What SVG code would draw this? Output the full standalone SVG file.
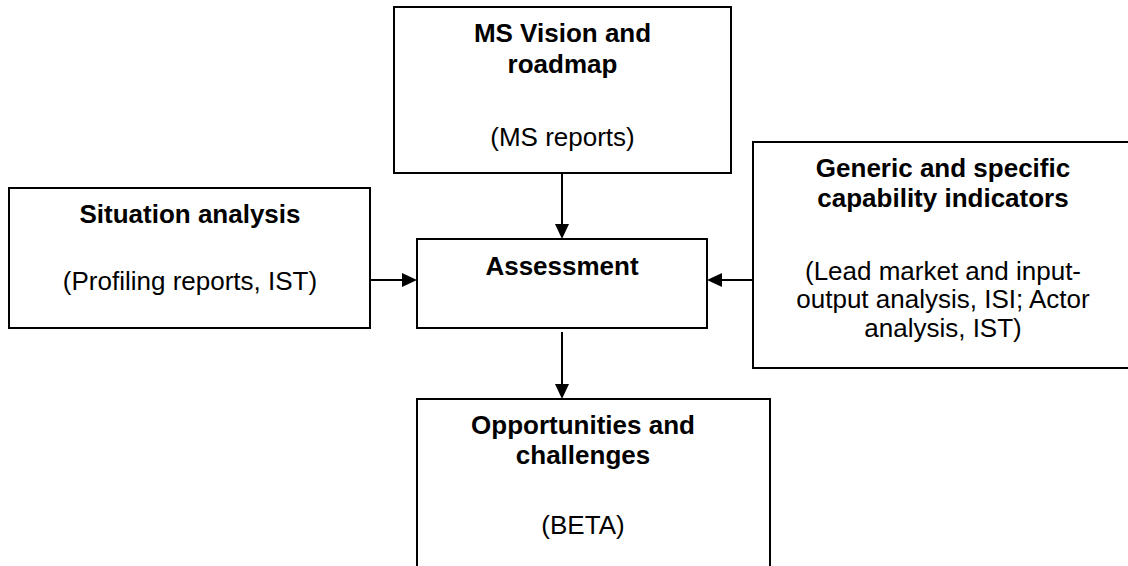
<svg xmlns="http://www.w3.org/2000/svg" width="1128" height="566" viewBox="0 0 1128 566">
<style>
.box{fill:#fff;stroke:#000;stroke-width:2}
.b{font-family:"Liberation Sans",Arial,sans-serif;font-size:26px;font-weight:bold;text-anchor:middle;fill:#000}
.r{font-family:"Liberation Sans",Arial,sans-serif;font-size:26px;text-anchor:middle;fill:#000}
.ln{stroke:#000;stroke-width:2;fill:none}
.ah{fill:#000}
</style>
<rect width="1128" height="566" fill="#fff"/>
<g id="vision">
<rect class="box" x="394" y="7" width="337" height="166"/>
<text class="b" x="562.5" y="42">MS Vision and</text>
<text class="b" x="562.5" y="73">roadmap</text>
<text class="r" x="562.5" y="146">(MS reports)</text>
</g>
<g id="situation">
<rect class="box" x="9" y="188" width="361" height="140"/>
<text class="b" x="190" y="223">Situation analysis</text>
<text class="r" x="190" y="290">(Profiling reports, IST)</text>
</g>
<g id="assessment">
<rect class="box" x="417" y="239" width="290" height="89"/>
<text class="b" x="562" y="275">Assessment</text>
</g>
<g id="indicators">
<rect class="box" x="753" y="142" width="390" height="226"/>
<text class="b" x="943" y="177">Generic and specific</text>
<text class="b" x="943" y="207">capability indicators</text>
<text class="r" x="943" y="280">(Lead market and input-</text>
<text class="r" x="943" y="308">output analysis, ISI; Actor</text>
<text class="r" x="943" y="337">analysis, IST)</text>
</g>
<g id="opportunities">
<rect class="box" x="417" y="399" width="353" height="180"/>
<text class="b" x="583" y="434">Opportunities and</text>
<text class="b" x="583" y="464">challenges</text>
<text class="r" x="583" y="534">(BETA)</text>
</g>
<g id="connectors">
<line class="ln" x1="562" y1="173" x2="562" y2="226"/>
<polygon class="ah" points="555,224 569,224 562,239"/>
<line class="ln" x1="370" y1="280" x2="404" y2="280"/>
<polygon class="ah" points="402,273 402,287 417,280"/>
<line class="ln" x1="753" y1="280" x2="720" y2="280"/>
<polygon class="ah" points="722,273 722,287 707,280"/>
<line class="ln" x1="562" y1="332" x2="562" y2="386"/>
<polygon class="ah" points="555,384 569,384 562,399"/>
</g>
</svg>
